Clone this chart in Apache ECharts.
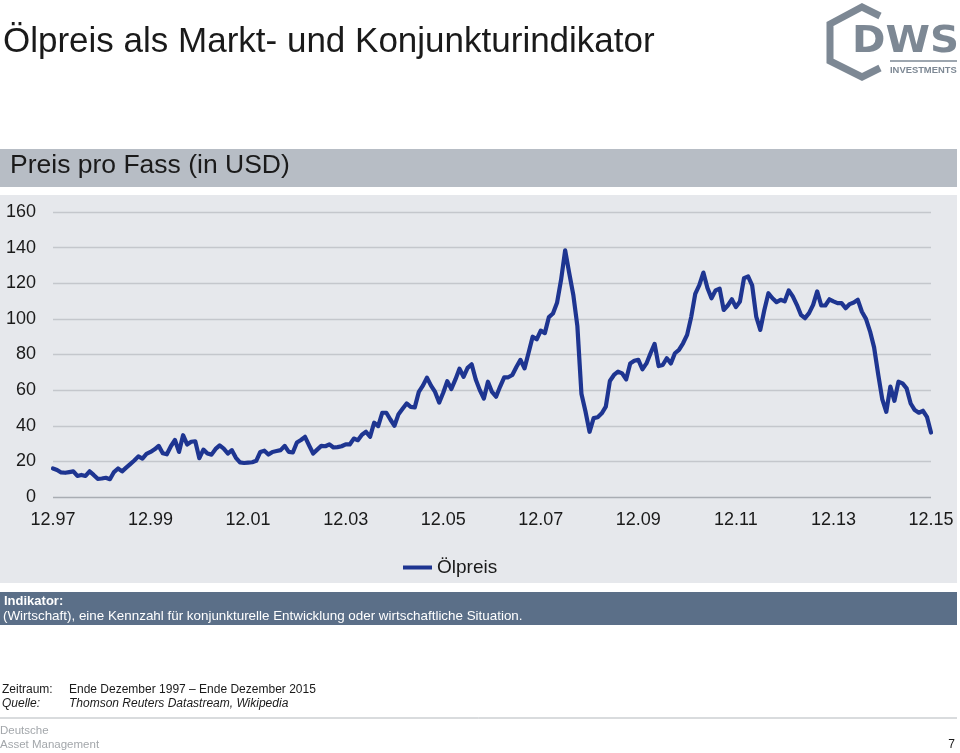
<!DOCTYPE html>
<html>
<head>
<meta charset="utf-8">
<script src="https://cdn.jsdelivr.net/npm/echarts@6/dist/echarts.min.js"></script>
<style>
html,body{margin:0;padding:0;background:#fff;}
#c{width:960px;height:753px;}
</style>
</head>
<body>
<div id="c"></div>
<script>
// Monthly oil price (USD per barrel), end Dec 1997 .. end Dec 2015
var start = {year: 1997, month: 12};
var oil1998_2000 = [16.0,
  15.2,13.8,13.6,14.0,14.4,11.8,12.4,11.8,14.4,12.4,10.2,10.4,
  10.8,10.0,14.0,16.0,14.4,16.5,18.5,20.5,22.8,21.6,24.2,25.3,
  26.8,28.7,24.6,24.0,28.5,32.0,25.3,34.7,29.5,31.0,31.3,21.8];
var oil2001_2003 = [
  26.6,24.4,23.8,27.0,29.0,27.2,24.4,26.3,22.0,19.4,19.1,19.3,
  19.5,20.3,25.3,26.0,23.8,25.3,25.8,26.3,28.7,25.3,25.0,30.6,
  32.0,33.8,29.0,24.4,26.6,28.7,28.5,29.6,27.8,28.0,28.5,29.6];
var oil2004_2006 = [
  29.5,32.8,31.9,35.0,36.6,33.8,41.7,39.8,47.3,47.3,43.5,40.0,
  46.5,49.5,52.5,50.6,50.3,59.0,62.5,67.0,62.5,59.0,53.0,58.5,
  65.0,60.6,66.0,72.0,67.5,72.5,74.5,66.0,60.0,55.3,64.7,59.0];
var oil2007_2009 = [
  56.3,62.0,67.2,67.2,68.5,73.0,77.0,72.2,81.0,90.0,88.5,93.4,
  92.0,101.0,103.0,109.0,122.0,138.5,125.7,113.5,96.0,58.0,48.0,36.6,
  44.3,44.8,47.0,50.7,65.1,68.5,70.4,69.4,66.0,75.0,76.5,77.0];
var oil2010_2012 = [
  71.7,75.0,80.7,86.0,73.5,74.1,77.9,75.0,80.7,82.6,86.3,91.0,
  101.0,114.0,119.0,126.0,117.3,111.6,116.0,117.0,105.0,107.5,111.0,106.6,
  109.8,122.9,123.8,118.8,101.3,93.8,105.0,114.4,111.6,109.4,110.7,109.8];
var oil2013_2015 = [
  116.0,112.6,107.9,102.3,100.4,103.2,107.9,115.4,107.5,107.5,111.0,109.8,
  108.8,108.8,106.0,108.3,109.2,110.7,104.0,100.0,93.0,84.0,69.0,55.0,
  47.8,62.0,54.0,64.7,63.8,61.0,52.5,48.8,47.3,48.4,45.0,36.2];
var tickLabels = ['12.97','12.99','12.01','12.03','12.05','12.07','12.09','12.11','12.13','12.15'];
var yTicks = {min: 0, max: 160, interval: 20};
var seriesName = 'Ölpreis';

var values = [].concat(oil1998_2000, oil2001_2003, oil2004_2006, oil2007_2009, oil2010_2012, oil2013_2015);
var categories = [];
(function(){
  var y = start.year, m = start.month;
  for (var i = 0; i < values.length; i++) {
    categories.push((m < 10 ? '0' + m : '' + m) + '.' + String(y).slice(2));
    m++; if (m > 12) { m = 1; y++; }
  }
})();

var FONT = '"Liberation Sans", Arial, Helvetica, sans-serif';
var chart = echarts.init(document.getElementById('c'), null, {renderer: 'canvas'});
var option = {
  backgroundColor: '#ffffff',
  animation: false,
  textStyle: {fontFamily: FONT},
  grid: {left: 53, right: 29, top: 212, bottom: 256, containLabel: false},
  xAxis: {
    type: 'category',
    data: categories,
    boundaryGap: false,
    axisLine: {show: false},
    axisTick: {show: false},
    splitLine: {show: false},
    axisLabel: {
      interval: function (idx, val) { return tickLabels.indexOf(val) >= 0 && idx % 24 === 0; },
      color: '#1a1a1a', fontSize: 18, fontFamily: FONT, margin: 14
    }
  },
  yAxis: {
    type: 'value',
    min: yTicks.min, max: yTicks.max, interval: yTicks.interval,
    axisLine: {show: false},
    axisTick: {show: false},
    axisLabel: {color: '#1a1a1a', fontSize: 18, fontFamily: FONT, margin: 17},
    splitLine: {lineStyle: {color: ['#a9adb3','#c4c7cc','#c4c7cc','#c4c7cc','#c4c7cc','#c4c7cc','#c4c7cc','#c4c7cc','#c4c7cc'], width: 1.3}}
  },
  legend: {
    data: [seriesName],
    left: 398, top: 553,
    icon: 'rect', itemWidth: 29, itemHeight: 4,
    textStyle: {fontSize: 19, color: '#1a1a1a', fontFamily: FONT}
  },
  series: [{
    name: seriesName,
    type: 'line',
    data: values,
    showSymbol: false,
    symbol: 'none',
    smooth: false,
    color: '#1e3591',
    lineStyle: {color: '#1e3591', width: 4.2, join: 'round', cap: 'round'},
    z: 5
  }],
  graphic: [
    // backgrounds
    {type: 'rect', z: -10, shape: {x: 0, y: 149, width: 957, height: 38}, style: {fill: '#b7bdc5'}},
    {type: 'rect', z: -10, shape: {x: 0, y: 195, width: 957, height: 388}, style: {fill: '#e6e8ec'}},
    {type: 'rect', z: -10, shape: {x: 0, y: 592, width: 957, height: 33}, style: {fill: '#5b6f88'}},
    {type: 'line', z: -10, shape: {x1: 0, y1: 718, x2: 957, y2: 718}, style: {stroke: '#b3b8bc', lineWidth: 1}},
    // title
    {type: 'text', x: 3, y: 42.5, style: {text: 'Ölpreis als Markt- und Konjunkturindikator', font: '35px ' + FONT, fill: '#1a1a1a', textVerticalAlign: 'middle'}},
    {type: 'text', x: 10, y: 166, style: {text: 'Preis pro Fass (in USD)', font: '26.5px ' + FONT, fill: '#1a1a1a', textVerticalAlign: 'middle'}},
    // indicator box
    {type: 'text', x: 4, y: 601, style: {text: 'Indikator:', font: 'bold 13px ' + FONT, fill: '#ffffff', textVerticalAlign: 'middle'}},
    {type: 'text', x: 3, y: 616.5, style: {text: '(Wirtschaft), eine Kennzahl für konjunkturelle Entwicklung oder wirtschaftliche Situation.', font: '13.4px ' + FONT, fill: '#ffffff', textVerticalAlign: 'middle'}},
    // footnotes
    {type: 'text', x: 2, y: 690, style: {text: 'Zeitraum:', font: '12px ' + FONT, fill: '#1a1a1a', textVerticalAlign: 'middle'}},
    {type: 'text', x: 69, y: 690, style: {text: 'Ende Dezember 1997 – Ende Dezember 2015', font: '12px ' + FONT, fill: '#1a1a1a', textVerticalAlign: 'middle'}},
    {type: 'text', x: 2, y: 704, style: {text: 'Quelle:', font: 'italic 12px ' + FONT, fill: '#1a1a1a', textVerticalAlign: 'middle'}},
    {type: 'text', x: 69, y: 704, style: {text: 'Thomson Reuters Datastream, Wikipedia', font: 'italic 12px ' + FONT, fill: '#1a1a1a', textVerticalAlign: 'middle'}},
    {type: 'text', x: 0, y: 731, style: {text: 'Deutsche', font: '11.5px ' + FONT, fill: '#a3a7ab', textVerticalAlign: 'middle'}},
    {type: 'text', x: 0, y: 745, style: {text: 'Asset Management', font: '11.5px ' + FONT, fill: '#a3a7ab', textVerticalAlign: 'middle'}},
    {type: 'text', x: 955, y: 745, style: {text: '7', font: '12px ' + FONT, fill: '#1a1a1a', textAlign: 'right', textVerticalAlign: 'middle'}},
    // logo
    {type: 'polyline', shape: {points: [[880,16],[862,7],[830,24],[830,61],[862,77],[880,68]]}, style: {stroke: '#7d8894', lineWidth: 7, fill: null, lineJoin: 'miter'}},
    {type: 'text', x: 852, y: 42, scaleX: 1.09, style: {text: 'DWS', font: 'bold 37px "DejaVu Sans", sans-serif', fill: '#7d8894', textVerticalAlign: 'middle'}},
    {type: 'line', shape: {x1: 890, y1: 61, x2: 957, y2: 61}, style: {stroke: '#7d8894', lineWidth: 1.5}},
    {type: 'text', x: 890, y: 70, style: {text: 'INVESTMENTS', font: 'bold 9.4px ' + FONT, fill: '#7d8894', textVerticalAlign: 'middle'}}
  ]
};
chart.setOption(option);
</script>
</body>
</html>
